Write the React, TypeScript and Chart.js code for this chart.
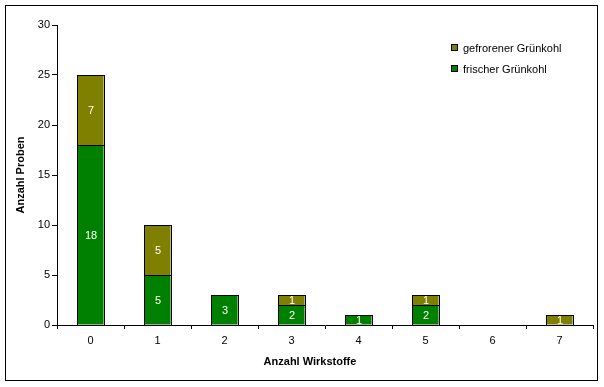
import React, { useEffect, useRef } from "react";
import { Chart, registerables } from "chart.js";

Chart.register(...registerables);

const categories = ["0", "1", "2", "3", "4", "5", "6", "7"];
const frischer = [18, 5, 3, 2, 1, 2, 0, 0];
const gefrorener = [7, 5, 0, 1, 0, 1, 0, 1];
const seriesNames = ["frischer Grünkohl", "gefrorener Grünkohl"];
const yTitle = "Anzahl Proben";
const xTitle = "Anzahl Wirkstoffe";

const FONT = "'Liberation Sans', Arial, sans-serif";
const GREEN = "#008000";
const OLIVE = "#808000";

export default function App() {
  const ref = useRef<HTMLCanvasElement>(null);
  useEffect(() => {
    if (!ref.current) return;
    const extras = {
      id: "extras",
      afterDatasetsDraw(chart: any) {
        const ctx = chart.ctx;
        ctx.save();
        ctx.strokeStyle = "#000";
        ctx.lineWidth = 1;
        chart.data.datasets.forEach((ds: any, di: number) => {
          const meta = chart.getDatasetMeta(di);
          meta.data.forEach((bar: any, i: number) => {
            const v = ds.data[i];
            if (v == null || v === 0) return;
            const l = Math.round(bar.x - bar.width / 2);
            const r = Math.round(bar.x + bar.width / 2);
            const t = Math.round(Math.min(bar.y, bar.base));
            const b = Math.round(Math.max(bar.y, bar.base));
            ctx.strokeRect(l + 0.5, t + 0.5, r - l, b - t);
          });
        });
        ctx.restore();
      },
      afterDraw(chart: any) {
        const ctx = chart.ctx;
        ctx.save();
        // frame
        ctx.strokeStyle = "#000";
        ctx.lineWidth = 1;
        ctx.strokeRect(5.5, 5.5, 592, 375);
        // data labels
        ctx.fillStyle = "#fff";
        ctx.font = `11px ${FONT}`;
        ctx.textAlign = "center";
        ctx.textBaseline = "middle";
        chart.data.datasets.forEach((ds: any, di: number) => {
          const meta = chart.getDatasetMeta(di);
          meta.data.forEach((bar: any, i: number) => {
            const v = ds.data[i];
            if (v == null || v === 0) return;
            const cy = (bar.y + bar.base) / 2;
            ctx.fillText(String(v), bar.x + 0.5, cy + 1);
          });
        });
        // axis titles
        ctx.fillStyle = "#000";
        ctx.font = `bold 11px ${FONT}`;
        ctx.fillText(xTitle, 310, 362);
        ctx.save();
        ctx.translate(21, 175);
        ctx.rotate(-Math.PI / 2);
        ctx.fillText(yTitle, 0, 0);
        ctx.restore();
        // legend
        const items = [
          { label: seriesNames[1], color: OLIVE, y: 48 },
          { label: seriesNames[0], color: GREEN, y: 69 },
        ];
        ctx.textAlign = "left";
        ctx.font = `11px ${FONT}`;
        items.forEach((it) => {
          ctx.fillStyle = it.color;
          ctx.fillRect(452, it.y - 3, 6, 6);
          ctx.strokeStyle = "#000";
          ctx.strokeRect(451.5, it.y - 3.5, 6, 6);
          ctx.fillStyle = "#000";
          ctx.fillText(it.label, 463, it.y + 1);
        });
        ctx.restore();
      },
    };
    const chart = new Chart(ref.current, {
      type: "bar",
      data: {
        labels: categories,
        datasets: [
          {
            label: seriesNames[0],
            data: frischer.map((v) => (v === 0 ? null : v)) as any,
            backgroundColor: GREEN,
            borderWidth: 0,
            categoryPercentage: 1,
            barPercentage: 0.39,
          },
          {
            label: seriesNames[1],
            data: gefrorener.map((v) => (v === 0 ? null : v)) as any,
            backgroundColor: OLIVE,
            borderWidth: 0,
            categoryPercentage: 1,
            barPercentage: 0.39,
          },
        ],
      },
      options: {
        animation: false,
        responsive: false,
        maintainAspectRatio: false,
        layout: { padding: { left: 0, top: 25, right: 11, bottom: 0 } },
        plugins: { legend: { display: false }, tooltip: { enabled: false } },
        scales: {
          x: {
            stacked: true,
            grid: {
              offset: true,
              drawOnChartArea: false,
              drawTicks: true,
              tickLength: 4,
              color: "#000",
            },
            border: { display: true, color: "#000", width: 1 },
            ticks: {
              color: "#000",
              font: { family: FONT, size: 11 },
              padding: 5,
              maxRotation: 0,
            },
            afterFit(scale: any) {
              scale.height = 62;
            },
          },
          y: {
            stacked: true,
            min: 0,
            max: 30,
            grid: {
              drawOnChartArea: false,
              drawTicks: true,
              tickLength: 5,
              color: "#000",
            },
            border: { display: true, color: "#000", width: 1 },
            ticks: {
              stepSize: 5,
              color: "#000",
              font: { family: FONT, size: 11 },
              padding: 2,
            },
            afterFit(scale: any) {
              scale.width = 57;
            },
          },
        },
      },
      plugins: [extras],
    });
    return () => chart.destroy();
  }, []);
  return (
    <div style={{ position: "fixed", left: 0, top: 0, width: 604, height: 387, background: "#fff" }}>
      <canvas ref={ref} width={604} height={387} style={{ display: "block" }} />
    </div>
  );
}
